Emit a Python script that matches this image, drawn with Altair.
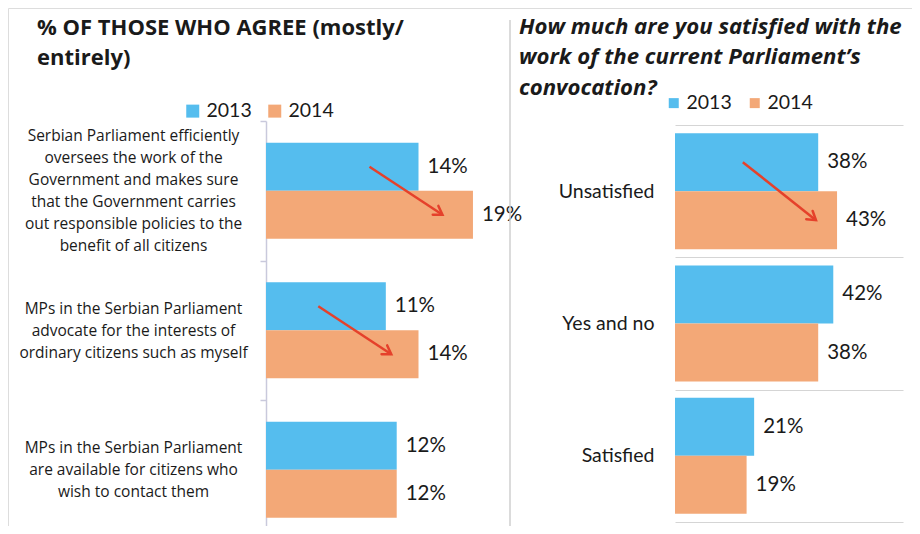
import altair as alt
import pandas as pd

# ---------------- data ----------------
YEARS = ["2013", "2014"]
YEAR_COLORS = ["#55BDEE", "#F3A877"]

left_title = ["% OF THOSE WHO AGREE (mostly/", "entirely)"]
left_categories = [
    "Serbian Parliament efficiently|oversees the work of the|Government and makes sure|that the Government carries|out responsible policies to the|benefit of all citizens",
    "MPs in the Serbian Parliament|advocate for the interests of|ordinary citizens such as myself",
    "MPs in the Serbian Parliament|are available for citizens who|wish to contact them",
]
left_2013 = [14, 11, 12]
left_2014 = [19, 14, 12]
# arrows (category index, start value on 2013 row, end value on 2014 row)
left_arrow_category = [0, 1]
left_arrow_from = [9.5, 4.8]
left_arrow_to = [16.2, 11.5]

right_title = ["How much are you satisfied with the", "work of the current Parliament\u2019s", "convocation?"]
right_categories = ["Unsatisfied", "Yes and no", "Satisfied"]
right_2013 = [38, 42, 21]
right_2014 = [43, 38, 19]
right_arrow_category = [0]
right_arrow_from = [18.0]
right_arrow_to = [37.4]

FONT = "Lato"
TITLE_FONT = "Open Sans"
TEXT_COLOR = "#1a1a1a"
ARROW_COLOR = "#E5412B"


def bars_frame(cats, v13, v14):
    rows = []
    for c, a, b in zip(cats, v13, v14):
        rows.append({"cat": c, "year": "2013", "value": a, "label": f"{a}%"})
        rows.append({"cat": c, "year": "2014", "value": b, "label": f"{b}%"})
    return pd.DataFrame(rows)


def arrow_frames(cats, idx, start, end):
    lines, heads = [], []
    for k, (i, s, e) in enumerate(zip(idx, start, end)):
        lines.append({"id": k, "cat": cats[i], "year": "2013", "value": s})
        lines.append({"id": k, "cat": cats[i], "year": "2014", "value": e})
        heads.append({"id": k, "cat": cats[i], "year": "2014", "value": e})
    return pd.DataFrame(lines), pd.DataFrame(heads)


def panel(cats, v13, v14, aidx, afrom, ato, xscale, yscale, yoff, yaxis, legend,
          head_angle):
    df = bars_frame(cats, v13, v14)
    ldf, hdf = arrow_frames(cats, aidx, afrom, ato)
    y = alt.Y("cat:N", sort=cats, scale=yscale, axis=yaxis)
    yo = alt.YOffset("year:N", sort=YEARS, scale=yoff)
    x = alt.X("value:Q", scale=xscale, axis=None)
    bars = alt.Chart(df).mark_bar(cornerRadius=0).encode(
        x=x, y=y, yOffset=yo,
        color=alt.Color("year:N", sort=YEARS,
                        scale=alt.Scale(domain=YEARS, range=YEAR_COLORS),
                        legend=legend),
    )
    text = alt.Chart(df).mark_text(
        align="left", baseline="middle", dx=9, font=FONT, fontSize=20.5,
        color=TEXT_COLOR,
    ).encode(x=x, y=y, yOffset=yo, text="label:N")
    arrows = alt.Chart(ldf).mark_line(color=ARROW_COLOR, strokeWidth=2.5).encode(
        x=x, y=y, yOffset=yo, detail="id:N"
    )
    heads = alt.Chart(hdf).mark_point(
        shape="M-0.6,0.95L0,0L0.6,0.95", filled=False, stroke=ARROW_COLOR,
        strokeWidth=2.5, size=300, angle=head_angle, opacity=1,
        strokeCap="round", strokeJoin="miter",
    ).encode(x=x, y=y, yOffset=yo)
    return alt.layer(bars, text, arrows, heads)


left = panel(
    left_categories, left_2013, left_2014,
    left_arrow_category, left_arrow_from, left_arrow_to,
    xscale=alt.Scale(domain=[0, 22.4], range=[258, 502], nice=False, zero=True),
    yscale=alt.Scale(domain=left_categories, range=[113, 531.5],
                     paddingInner=0, paddingOuter=0),
    yoff=alt.Scale(domain=YEARS, paddingInner=0, paddingOuter=0.453),
    yaxis=alt.Axis(orient="left", offset=-258, title=None,
                   labelExpr="split(datum.label, '|')",
                   labelAlign="center", labelBaseline="middle",
                   labelOffset={"condition": {"test": "length(split(datum.value, '|')) > 4",
                                              "value": -55},
                                "value": -22},
                   labelPadding=127, labelFont=TITLE_FONT, labelFontSize=15.5,
                   labelLineHeight=22, labelColor=TEXT_COLOR, labelLimit=400,
                   domainColor="#C9C9DC", domainWidth=1.5,
                   tickColor="#C9C9DC", tickWidth=1.5, tickSize=6,
                   tickBand="extent", grid=False),
    legend=alt.Legend(orient="none", legendX=175, legendY=93,
                      direction="horizontal", title=None, symbolType="square",
                      symbolSize=169, symbolStrokeWidth=0, labelFont=FONT,
                      labelFontSize=19.5, labelColor=TEXT_COLOR, labelOffset=4,
                      columnPadding=13),
    head_angle=123,
)

right = panel(
    right_categories, right_2013, right_2014,
    right_arrow_category, right_arrow_from, right_arrow_to,
    xscale=alt.Scale(domain=[0, 60.5], range=[667, 895], nice=False, zero=True),
    yscale=alt.Scale(domain=right_categories, range=[117, 514],
                     paddingInner=0, paddingOuter=0),
    yoff=alt.Scale(domain=YEARS, paddingInner=0, paddingOuter=0.1405),
    yaxis=alt.Axis(orient="left", offset=-667, title=None, domain=False,
                   ticks=False, labelPadding=21, labelFont=FONT,
                   labelFontSize=19.5, labelColor=TEXT_COLOR, grid=True,
                   gridColor="#D5D5D5", gridWidth=1.2, tickBand="extent"),
    legend=alt.Legend(orient="none", legendX=656, legendY=85,
                      direction="horizontal", title=None, symbolType="square",
                      symbolSize=100, symbolStrokeWidth=0, labelFont=FONT,
                      labelFontSize=19.5, labelColor=TEXT_COLOR, labelOffset=3,
                      columnPadding=13),
    head_angle=128,
)

title_df = pd.DataFrame({"left": ["|".join(left_title)],
                         "right": ["|".join(right_title)]})

left_title_mark = alt.Chart(title_df).mark_text(
    align="left", baseline="alphabetic", font=TITLE_FONT, fontSize=22,
    fontWeight="bold", color=TEXT_COLOR, lineBreak="|", lineHeight=30,
).encode(x=alt.value(29), y=alt.value(27), text="left:N")

right_title_mark = alt.Chart(title_df).mark_text(
    align="left", baseline="alphabetic", font=TITLE_FONT, fontSize=22.2,
    fontWeight="bold", fontStyle="italic", color=TEXT_COLOR, lineBreak="|",
    lineHeight=30.8,
).encode(x=alt.value(511), y=alt.value(25.5), text="right:N")

separator = alt.Chart(title_df).mark_rule(color="#CFCFCF", strokeWidth=1.5).encode(
    x=alt.value(502), y=alt.value(12), y2=alt.value(518)
)

chart = alt.layer(left, right, left_title_mark, right_title_mark, separator).resolve_scale(
    x="independent", y="independent", color="independent", yOffset="independent"
).properties(
    width=904, height=518, padding=0,
    autosize=alt.AutoSizeParams(type="none"),
).configure_view(stroke=None).configure(font=FONT)

chart.save("out.html", embed_options={"renderer": "svg", "actions": False})
